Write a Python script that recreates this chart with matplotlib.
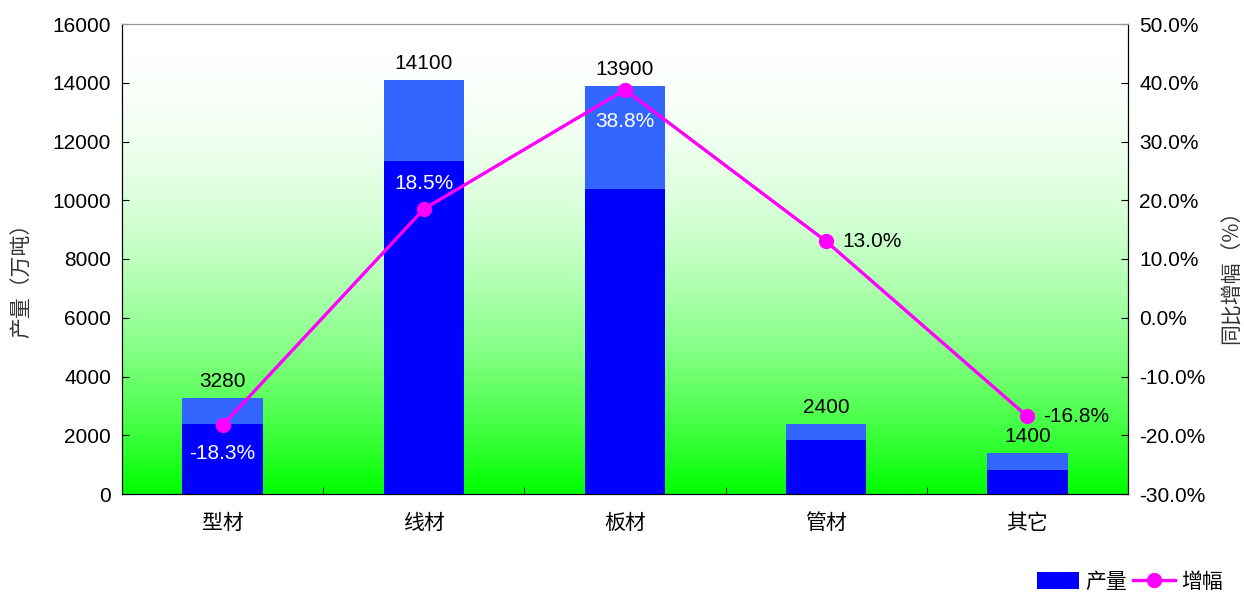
import numpy as np
import matplotlib
matplotlib.use("Agg")
import matplotlib.pyplot as plt
from matplotlib.patches import Patch
from matplotlib.lines import Line2D

plt.rcParams['font.family'] = ['Liberation Sans', 'Noto Sans CJK SC', 'DejaVu Sans']

categories = ['型材', '线材', '板材', '管材', '其它']
output_total = [3280, 14100, 13900, 2400, 1400]
output_base = [2380, 11340, 10380, 1840, 820]
growth = [-18.3, 18.5, 38.8, 13.0, -16.8]
left_ticks = [0, 2000, 4000, 6000, 8000, 10000, 12000, 14000, 16000]
right_ticks = [-30, -20, -10, 0, 10, 20, 30, 40, 50]

dark_blue = '#0000FF'
light_blue = '#3366FF'
magenta = '#FF00FF'
FS = 15

W, H = 1244, 595
fig = plt.figure(figsize=(12.44, 5.95), dpi=100)
ax = fig.add_axes([122/W, 1-494/H, (1128-122)/W, (494-24)/H])
ax2 = ax.twinx()

# gradient background
t = np.linspace(0, 1, 256)[:, None]
rb = 1 - t**2
grad = np.dstack([rb, np.ones_like(rb), rb])
ax.imshow(grad, extent=[-0.5, 4.5, 0, 16000], aspect='auto', zorder=0,
          interpolation='bilinear', origin='upper')

x = np.arange(len(categories))
w = 0.4
ax.bar(x, output_total, width=w, color=light_blue, zorder=2)
ax.bar(x, output_base, width=w, color=dark_blue, zorder=3)

ax.set_xlim(-0.5, 4.5)
ax.set_ylim(0, 16000)
ax.set_yticks(left_ticks)
ax.set_yticklabels([str(v) for v in left_ticks], fontsize=FS)
ax.set_xticks(x)
ax.set_xticklabels(categories, fontsize=FS, family=['Noto Sans CJK SC'])
ax.tick_params(axis='x', length=0, pad=13)
ax.set_xticks(np.arange(0.5, 4.5, 1), minor=True)
ax.tick_params(axis='x', which='minor', direction='in', length=5)
ax.tick_params(axis='y', direction='in', length=5, pad=8)

fig.text(22/W, 1-275/H, '产量（万吨）', rotation=90, ha='center', va='center',
         fontsize=FS, family=['Noto Sans CJK SC'], color='#333333')
fig.text(1232/W, 1-272/H, '同比增幅（%）', rotation=90, ha='center', va='center',
         fontsize=FS, family=['Noto Sans CJK SC'], color='#333333')

for xi, v in zip(x, output_total):
    ax.annotate(str(v), (xi, v), xytext=(0, 16), textcoords='offset pixels',
                ha='center', va='center', fontsize=FS, color='black', zorder=5)

ax2.set_ylim(-30, 50)
ax2.plot(x, growth, color=magenta, lw=2.4, marker='o', markersize=10, zorder=4)
ax2.set_yticks(right_ticks)
ax2.set_yticklabels([f'{v:.1f}%' for v in right_ticks], fontsize=FS)
ax2.tick_params(axis='y', direction='in', length=5, pad=8)

offsets = [(0, -28, 'white', 'center'), (0, 26, 'white', 'center'), (0, -32, 'white', 'center'),
           (16, 0, 'black', 'left'), (16, 0, 'black', 'left')]
for xi, g, (dx, dy, c, ha) in zip(x, growth, offsets):
    ax2.annotate(f'{g:.1f}%', (xi, g), xytext=(dx, dy), textcoords='offset pixels',
                 ha=ha, va='center', fontsize=FS, color=c, zorder=6)

ax.spines['top'].set_color('#999999')
ax2.spines['top'].set_color('#999999')

handles = [Patch(facecolor=dark_blue, edgecolor='none'),
           Line2D([0], [0], color=magenta, lw=2.4, marker='o', markersize=10)]
fig.legend(handles, ['产量', '增幅'], loc='center', bbox_to_anchor=(1130/W, 1-582/H),
           ncol=2, frameon=False, prop={'family': ['Noto Sans CJK SC'], 'size': FS},
           handlelength=2.0, handleheight=0.9, handletextpad=0.3, columnspacing=0.3,
           borderpad=0.0)

fig.savefig('out.png', dpi=100)
